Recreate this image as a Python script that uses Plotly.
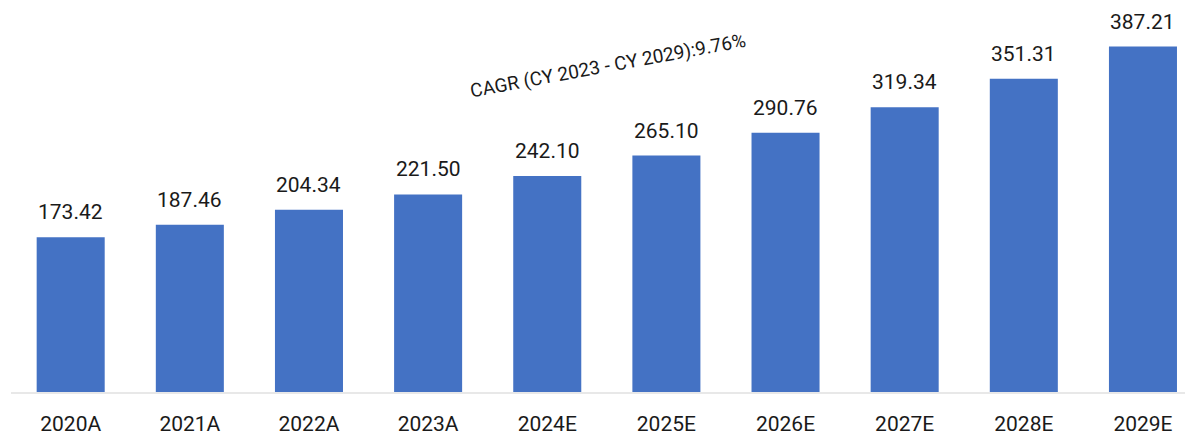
import plotly.graph_objects as go

categories = ["2020A", "2021A", "2022A", "2023A", "2024E", "2025E", "2026E", "2027E", "2028E", "2029E"]
values = [173.42, 187.46, 204.34, 221.50, 242.10, 265.10, 290.76, 319.34, 351.31, 387.21]
value_labels = ["173.42", "187.46", "204.34", "221.50", "242.10", "265.10", "290.76", "319.34", "351.31", "387.21"]
cagr_text = "CAGR (CY 2023 - CY 2029):9.76%"

FONT = "Roboto"
# page body has an 8px margin; figure sized to fill the rest of the window
W, H = 1185, 428
ML, MR, MT, MB = 3, 0, 0, 40

fig = go.Figure()
fig.add_trace(go.Bar(
    x=categories, y=values,
    marker=dict(color="#4472C4", line=dict(width=0)),
    width=0.571,
    hoverinfo="skip",
))

for c, v, t in zip(categories, values, value_labels):
    fig.add_annotation(x=c, y=v, text=t, showarrow=False, xref="x", yref="y",
                       yanchor="bottom", yshift=11,
                       font=dict(family=FONT, size=21, color="#1a1a1a"))

plot_w = W - ML - MR
plot_h = H - MT - MB
fig.add_annotation(
    text=cagr_text, showarrow=False, xref="paper", yref="paper",
    x=(600 - ML) / plot_w, y=(plot_h - 58) / plot_h,
    xanchor="center", yanchor="middle", textangle=-10.5,
    font=dict(family=FONT, size=19, color="#1a1a1a"),
)

fig.update_layout(
    width=W, height=H,
    margin=dict(l=ML, r=MR, t=MT, b=MB),
    plot_bgcolor="white", paper_bgcolor="white",
    showlegend=False,
    xaxis=dict(
        range=[-0.501, 9.42],
        showgrid=False, zeroline=False,
        showline=True, linecolor="#e8e8e8", linewidth=2,
        ticks="", tickfont=dict(family=FONT, size=21, color="#1a1a1a"),
        ticklabelstandoff=12,
        fixedrange=True,
    ),
    yaxis=dict(
        range=[0, 430.5], visible=False, showgrid=False, zeroline=False,
        fixedrange=True,
    ),
    bargap=0.43,
)

fig.write_html("out.html", config={"displayModeBar": False})
